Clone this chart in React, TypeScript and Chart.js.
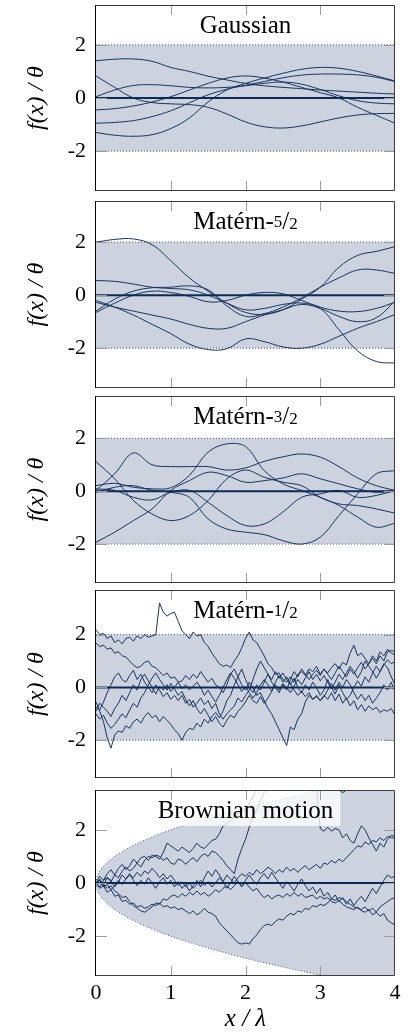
import React, { useEffect, useRef } from "react";
import { Chart, registerables } from "chart.js";

Chart.register(...registerables);

const SERIF = "'Liberation Serif', 'Times New Roman', serif";
const LINE = "#17335f";
const MEAN = "#0e2a57";
const BAND_FILL = "rgb(204, 211, 222)";
const BAND_EDGE = "rgba(40, 62, 105, 0.85)";
const FRAME = "#3c3c3c";
const AXIS = "#000000";
const TICK = "#9c9c9c";

const PAGE_W = 414;
const PAGE_H = 1034;
const PAD_TOP = 5;
const PAD_BOTTOM = 4;
const Y_AXIS_W = 96;
const RIGHT_PAD = 19;

// tick positions
const X_TICKS = [0, 1, 2, 3, 4];
const X_INNER_TICKS = [1, 2, 3];
const Y_TICKS = [-2, 0, 2];

// sample grids
const SMOOTH_X = [0, 0.25, 0.5, 0.75, 1, 1.25, 1.5, 1.75, 2, 2.25, 2.5, 2.75, 3, 3.25, 3.5, 3.75, 4];
const ROUGH_X = [
  0, 0.05, 0.1, 0.15, 0.2, 0.25, 0.3, 0.35, 0.4, 0.45,
  0.5, 0.55, 0.6, 0.65, 0.7, 0.75, 0.8, 0.85, 0.9, 0.95,
  1, 1.05, 1.1, 1.15, 1.2, 1.25, 1.3, 1.35, 1.4, 1.45,
  1.5, 1.55, 1.6, 1.65, 1.7, 1.75, 1.8, 1.85, 1.9, 1.95,
  2, 2.05, 2.1, 2.15, 2.2, 2.25, 2.3, 2.35, 2.4, 2.45,
  2.5, 2.55, 2.6, 2.65, 2.7, 2.75, 2.8, 2.85, 2.9, 2.95,
  3, 3.05, 3.1, 3.15, 3.2, 3.25, 3.3, 3.35, 3.4, 3.45,
  3.5, 3.55, 3.6, 3.65, 3.7, 3.75, 3.8, 3.85, 3.9, 3.95,
  4,
];

// ±2 standard-deviation band (stationary kernels)
const BAND_X = [0, 4];
const BAND_UPPER = [2, 2];
const BAND_LOWER = [-2, -2];

// ±2·sqrt(x) band for Brownian motion
const ENVELOPE_X = [0, 0.01, 0.025, 0.05, 0.1, 0.15, 0.2, 0.3, 0.4, 0.5, 0.6, 0.8, 1.0, 1.2, 1.4, 1.6, 1.8, 2.0, 2.25, 2.5, 2.75, 3.0, 3.25, 3.5, 3.75, 4.0];
const ENVELOPE_UPPER = [0, 0.2, 0.316, 0.447, 0.632, 0.775, 0.894, 1.095, 1.265, 1.414, 1.549, 1.789, 2.0, 2.191, 2.366, 2.53, 2.683, 2.828, 3.0, 3.162, 3.317, 3.464, 3.606, 3.742, 3.873, 4.0];
const ENVELOPE_LOWER = [0, -0.2, -0.316, -0.447, -0.632, -0.775, -0.894, -1.095, -1.265, -1.414, -1.549, -1.789, -2.0, -2.191, -2.366, -2.53, -2.683, -2.828, -3.0, -3.162, -3.317, -3.464, -3.606, -3.742, -3.873, -4.0];

// zero mean
const MEAN_X = [0, 4];
const MEAN_Y = [0, 0];

// Gaussian kernel samples
const GAUSS_1 = [1.4, 1.46, 1.47, 1.38, 1.15, 1.0, 0.82, 0.68, 0.55, 0.46, 0.4, 0.35, 0.3, 0.26, 0.22, 0.18, 0.15];
const GAUSS_2 = [0.83, 0.4, 0.0, -0.17, -0.22, -0.25, -0.35, -0.6, -0.9, -1.08, -1.13, -1.05, -0.9, -0.75, -0.64, -0.59, -0.58];
const GAUSS_3 = [-1.3, -1.4, -1.44, -1.38, -1.15, -0.75, -0.15, 0.3, 0.55, 0.75, 0.93, 1.08, 1.15, 1.12, 1.0, 0.83, 0.64];
const GAUSS_4 = [-0.45, -0.4, -0.3, -0.15, 0.05, 0.3, 0.55, 0.75, 0.83, 0.75, 0.6, 0.4, 0.2, 0.0, -0.35, -0.65, -0.95];
const GAUSS_5 = [-0.95, -0.92, -0.85, -0.7, -0.48, -0.18, 0.12, 0.33, 0.48, 0.62, 0.76, 0.86, 0.9, 0.9, 0.87, 0.78, 0.62];
const GAUSS_6 = [0.05, 0.3, 0.47, 0.5, 0.46, 0.4, 0.38, 0.4, 0.46, 0.55, 0.6, 0.52, 0.32, 0.08, -0.1, -0.19, -0.22];

// Matérn-5/2 samples
const M52_1 = [2.0, 2.1, 2.12, 1.9, 1.3, 0.65, 0.15, -0.3, -0.65, -0.72, -0.55, -0.15, 0.3, 1.05, 1.5, 1.65, 1.83];
const M52_2 = [0.55, 0.52, 0.42, 0.3, 0.25, 0.2, 0.0, -0.3, -0.55, -0.5, -0.35, -0.3, -0.5, -1.3, -2.1, -2.5, -2.56];
const M52_3 = [-0.2, -0.45, -0.75, -1.1, -1.45, -1.85, -2.05, -2.02, -1.65, -1.75, -1.95, -2.0, -1.85, -1.55, -1.25, -1.0, -0.73];
const M52_4 = [-0.27, -0.45, -0.6, -0.75, -0.9, -1.1, -1.25, -1.25, -1.0, -0.75, -0.55, -0.35, -0.5, -0.8, -1.0, -0.85, -0.22];
const M52_5 = [-0.6, -0.15, 0.15, 0.28, 0.3, 0.35, 0.2, -0.4, -0.8, -0.7, -0.45, -0.1, 0.3, 0.65, 0.95, 0.95, 0.82];
const M52_6 = [-0.65, -0.3, 0.0, 0.15, 0.1, -0.05, -0.25, -0.2, 0.0, 0.1, 0.05, -0.2, -0.45, -0.6, -0.62, -0.5, -0.27];

// Matérn-3/2 samples
const M32_1 = [0.03, 0.66, 1.45, 1.0, 0.93, 0.93, 0.93, 0.8, 0.88, 1.13, 1.3, 1.41, 1.29, 0.93, 0.5, 0.21, 0.03];
const M32_2 = [0.21, 0.3, 0.15, 0.09, 0.13, 0.6, 1.48, 1.79, 1.69, 0.78, 0.28, 0.03, -0.23, -0.54, -0.98, -1.36, -1.21];
const M32_3 = [1.12, 0.47, -0.35, -0.86, -1.11, -0.92, -0.35, 0.47, 0.8, 0.53, 0.34, 0.21, -0.23, -0.48, -0.54, -0.67, -0.83];
const M32_4 = [-1.93, -1.55, -1.11, -0.67, 0.03, 0.4, 0.72, 0.59, 0.34, 0.4, 0.5, 0.66, 0.47, 0.28, 0.09, -0.04, 0.03];
const M32_5 = [-0.04, 0.15, 0.21, 0.03, -0.04, -0.23, -1.05, -1.43, -1.55, -1.64, -1.87, -2.0, -1.74, -0.92, -0.1, 0.66, 0.78];
const M32_6 = [0.09, 0.03, -0.23, -0.33, -0.04, 0.03, -0.42, -0.92, -1.3, -1.24, -0.79, -0.23, -0.1, 0.03, -0.23, -0.16, 0.03];

// Matérn-1/2 samples
const M12_1 = [
  2.17, 2.0, 2.05, 1.85, 1.95, 1.7, 1.8, 1.65, 1.85, 1.9,
  1.75, 1.95, 1.85, 2.0, 1.9, 1.95, 2.0, 3.2, 2.85, 2.7,
  2.8, 2.85, 2.5, 2.15, 2.0, 1.85, 2.1, 1.95, 2.0, 1.7,
  1.55, 1.3, 1.1, 0.9, 0.8, 0.85, 0.75, 1.0, 1.2, 1.5,
  1.85, 2.1, 1.8, 1.7, 1.45, 1.2, 0.9, 0.75, 0.5, 0.55,
  0.3, 0.2, 0.4, 0.2, 0.5, 0.6, 0.45, 0.7, 0.6, 0.8,
  0.5, 0.7, 0.55, 0.75, 0.9, 0.7, 0.95, 0.85, 1.3, 1.6,
  1.2, 1.3, 1.1, 0.9, 1.2, 1.0, 1.35, 1.2, 1.45, 1.3,
  1.24,
];
const M12_2 = [
  1.68, 1.55, 1.6, 1.45, 1.5, 1.3, 1.35, 1.2, 1.15, 1.0,
  0.85, 0.75, 0.8, 0.95, 1.0, 0.8, 0.75, 0.6, 0.45, 0.55,
  0.35, 0.4, 0.2, 0.25, 0.45, 0.3, 0.5, 0.35, 0.6, 0.4,
  0.2, 0.35, 0.1, 0.0, -0.2, 0.1, 0.5, 0.7, 0.4, 0.1,
  -0.1, 0.2, 0.0, -0.3, -0.2, -0.5, -0.8, -1.0, -1.3, -1.6,
  -1.9, -2.2, -1.5, -1.6, -1.2, -1.0, -0.55, -0.3, -0.45, -0.35,
  -0.5, -0.3, -0.45, -0.2, -0.5, -0.25, -0.6, -0.4, -0.7, -0.5,
  -0.85, -0.65, -0.9, -0.7, -0.85, -0.75, -0.95, -0.85, -0.9, -0.8,
  -1.05,
];
const M12_3 = [
  -0.55, -0.9, -1.3, -1.9, -2.3, -1.8, -1.65, -1.7, -1.45, -1.55,
  -1.3, -1.2, -1.35, -1.1, -0.95, -1.15, -1.05, -1.3, -1.1, -1.25,
  -1.4, -1.6, -1.75, -2.0, -1.7, -1.55, -1.6, -1.35, -1.5, -1.2,
  -1.35, -1.1, -0.95, -1.15, -0.9, -0.5, -0.3, 0.1, 0.4, 0.7,
  0.3, 0.0, -0.2, 0.1, -0.1, 0.2, 0.5, 0.3, 0.6, 0.35,
  0.55, 0.3, 0.1, 0.35, 0.0, -0.2, 0.1, -0.1, 0.2, 0.0,
  -0.3, -0.1, 0.3, 0.0, -0.25, 0.1, -0.2, -0.45, -0.3, 0.0,
  0.25, 0.05, 0.4, 0.2, 0.55, 0.8, 0.6, 0.9, 0.75, 0.4,
  0.1,
];
const M12_4 = [
  -0.75, -0.85, -0.55, -0.2, 0.1, 0.4, 0.55, 0.3, 0.2, 0.45,
  0.65, 0.3, 0.5, 0.2, 0.0, -0.2, 0.1, -0.1, -0.35, -0.2,
  -0.45, -0.3, -0.5, -0.3, -0.6, -0.45, -0.75, -0.6, -0.4, -0.65,
  -0.5, -0.8, -0.6, -1.0, -1.2, -1.0, -0.85, -0.7, -0.4, -0.55,
  -0.3, -0.1, 0.3, 0.7, 1.0, 0.75, 0.5, 0.2, 0.0, -0.2,
  0.1, -0.1, 0.3, 0.6, 0.4, 0.7, 0.5, 0.3, 0.5, 0.65,
  0.45, 0.7, 0.5, 0.3, 0.55, 0.8, 0.6, 0.4, 0.7, 0.5,
  0.75, 0.95, 0.7, 0.9, 1.1, 0.9, 1.2, 1.0, 1.35, 1.4,
  1.36,
];
const M12_5 = [
  -0.9, -0.6, -0.75, -0.9, -1.1, -0.8, -0.6, -0.3, -0.5, -0.2,
  0.1, -0.1, 0.3, 0.5, 0.25, 0.0, -0.25, 0.05, -0.1, 0.1,
  -0.15, 0.0, 0.2, -0.05, 0.1, -0.1, 0.05, 0.2, 0.0, -0.3,
  -0.1, -0.35, -0.55, -0.3, 0.0, 0.3, 0.55, 0.35, 0.1, -0.15,
  0.05, -0.2, -0.4, -0.2, 0.1, 0.3, 0.1, -0.15, 0.2, 0.45,
  0.2, 0.4, 0.15, -0.1, -0.3, -0.15, -0.35, -0.2, -0.45, -0.3,
  -0.5, -0.35, -0.1, 0.15, -0.1, 0.2, 0.0, 0.3, 0.1, -0.2,
  -0.45, -0.25, -0.5, -0.3, -0.6, -0.4, -0.2, 0.1, -0.1, 0.2,
  -0.15,
];
const M12_6 = [
  -1.0, -1.2, -1.05, -1.35, -1.55, -1.4, -1.2, -1.0, -1.15, -0.85,
  -0.6, -0.75, -0.4, -0.2, 0.1, 0.35, 0.55, 0.3, 0.1, -0.1,
  0.15, -0.05, -0.3, -0.15, -0.45, -0.7, -0.5, -0.8, -1.0, -0.8,
  -1.05, -1.3, -1.1, -1.35, -1.5, -1.25, -1.05, -1.15, -0.9, -0.75,
  -0.55, -0.3, -0.5, -0.6, -0.35, -0.6, -0.4, -0.15, 0.1, -0.1,
  0.15, 0.0, -0.2, 0.05, 0.3, 0.1, 0.35, 0.6, 0.3, 0.5,
  0.25, 0.45, 0.2, -0.05, 0.2, 0.5, 0.3, 0.55, 0.8, 0.6,
  0.35, 0.6, 1.0, 0.8, 0.6, 0.35, 0.6, 0.85, 1.05, 0.9,
  0.98,
];

// Brownian motion samples
const BM_1 = [
  0, 0.25, 0.1, 0.35, 0.5, 0.3, 0.55, 0.7, 0.5, 0.65,
  0.9, 0.75, 0.95, 1.0, 0.85, 1.05, 1.0, 0.9, 1.15, 1.5,
  1.4, 1.3, 1.2, 1.35, 1.25, 1.15, 1.3, 1.5, 1.35, 1.3,
  1.45, 1.6, 1.65, 1.85, 2.15, 2.2, 2.35, 2.45, 2.6, 2.7,
  2.78, 3.0, 3.25, 3.55, 3.6, 3.5, 3.7, 3.9, 3.75, 4.0,
  3.85, 4.1, 3.9, 3.7, 3.9, 4.1, 3.95, 4.2, 4.0, 3.8,
  3.6, 3.8, 3.7, 3.55, 3.65, 3.5, 3.4, 3.5, 3.7, 3.9,
  4.1, 3.95, 4.2, 4.4, 4.2, 4.5, 4.3, 4.6, 4.4, 4.7,
  4.5,
];
const BM_2 = [
  0, -0.15, 0.1, 0.2, 0.05, 0.3, 0.2, 0.45, 0.6, 0.45,
  0.55, 0.75, 0.6, 0.85, 1.0, 0.95, 1.05, 1.0, 0.85, 0.95,
  0.75, 0.7, 0.9, 0.85, 0.7, 0.85, 0.95, 0.8, 1.0, 1.1,
  1.0, 1.2, 1.15, 1.0, 0.85, 0.65, 0.5, 0.35, 0.9, 1.3,
  1.64, 2.1, 2.5, 2.75, 3.1, 3.4, 3.6, 3.5, 3.7, 3.55,
  3.75, 3.6, 3.8, 3.6, 3.75, 3.55, 3.6, 3.5, 3.45, 3.55,
  2.05, 1.95, 2.1, 1.95, 2.05, 2.0, 1.7, 1.85, 1.6, 1.5,
  1.85, 2.15, 2.0, 1.7, 1.45, 1.2, 1.5, 1.35, 1.65, 1.8,
  1.75,
];
const BM_3 = [
  0, 0.15, -0.1, 0.2, 0.1, -0.15, 0.05, 0.3, 0.15, 0.35,
  0.1, -0.1, 0.1, -0.05, 0.2, 0.0, -0.2, 0.05, 0.2, -0.05,
  0.1, -0.15, 0.05, -0.2, -0.05, -0.3, -0.1, 0.1, -0.15, 0.2,
  0.45, 0.25, 0.5, 0.3, 0.05, -0.2, 0.0, 0.25, 0.05, -0.15,
  0.1, 0.3, 0.1, -0.05, 0.2, 0.35, 0.15, 0.4, 0.2, 0.0,
  -0.2, 0.05, -0.1, -0.3, -0.05, 0.15, -0.1, -0.3, -0.15, -0.4,
  -0.2, -0.5, -0.35, -0.6, -0.45, -0.7, -0.55, -0.8, -0.6, -0.85,
  -0.65, -0.5, -0.7, -0.45, -0.2, -0.4, -0.15, 0.1, 0.3, 0.2,
  0.25,
];
const BM_4 = [
  0, 0.1, -0.15, -0.05, -0.25, -0.1, 0.1, -0.05, 0.15, 0.3,
  0.2, 0.4, 0.25, 0.45, 0.35, 0.55, 0.4, 0.2, 0.35, 0.15,
  0.3, 0.1, -0.1, 0.05, -0.15, 0.0, -0.2, -0.05, 0.1, -0.1,
  0.05, -0.15, 0.0, 0.2, 0.05, 0.3, 0.15, 0.0, 0.2, 0.35,
  0.25, 0.4, 0.3, 0.5, 0.35, 0.45, 0.6, 0.5, 0.35, 0.5,
  0.4, 0.6, 0.45, 0.55, 0.4, 0.55, 0.65, 0.5, 0.6, 0.7,
  0.55, 0.75, 0.7, 0.85, 0.75, 0.9, 0.8, 0.95, 1.1, 1.25,
  1.4, 1.35, 1.55, 1.45, 1.6, 1.55, 1.7, 1.6, 1.75, 1.7,
  1.7,
];
const BM_5 = [
  0, -0.2, -0.1, -0.35, -0.25, -0.5, -0.45, -0.7, -0.65, -0.8,
  -0.75, -0.9, -0.85, -0.95, -0.9, -0.8, -0.85, -0.75, -0.9, -0.85,
  -0.95, -0.9, -1.0, -0.95, -1.05, -1.15, -1.05, -1.2, -1.1, -0.95,
  -1.1, -1.15, -1.25, -1.5, -1.65, -1.8, -1.95, -2.1, -2.25, -2.3,
  -2.25, -2.3, -2.1, -1.95, -1.75, -1.6, -1.55, -1.6, -1.45, -1.35,
  -1.4, -1.25, -1.15, -1.2, -1.05, -1.1, -0.95, -1.0, -0.85, -0.9,
  -0.8, -0.85, -0.75, -0.6, -0.65, -0.55, -0.6, -0.7, -0.8, -0.9,
  -0.95, -1.0, -0.9, -1.05, -0.95, -1.1, -0.9, -0.8, -0.7, -0.6,
  -0.55,
];
const BM_6 = [
  0, 0.1, -0.05, -0.2, -0.1, -0.3, -0.4, -0.55, -0.5, -0.7,
  -0.85, -0.95, -1.05, -1.1, -1.0, -0.9, -0.75, -0.8, -0.6, -0.65,
  -0.5, -0.45, -0.55, -0.4, -0.5, -0.35, -0.45, -0.3, -0.45, -0.35,
  -0.5, -0.4, -0.25, -0.35, -0.2, -0.1, -0.25, -0.1, 0.05, -0.1,
  0.0, -0.15, -0.3, -0.2, -0.4, -0.55, -0.45, -0.6, -0.5, -0.45,
  -0.55, -0.4, -0.5, -0.35, -0.5, -0.4, -0.55, -0.5, -0.45, -0.6,
  -0.5, -0.6, -0.55, -0.7, -0.75, -0.65, -0.8, -0.9, -0.95, -1.0,
  -0.9, -1.05, -1.1, -1.0, -1.2, -1.1, -1.25, -1.15, -1.4, -1.5,
  -1.58,
];

type Piece = { text: string; size: number; dy: number };

type PanelSpec = {
  name: string;
  title: Piece[];
  xs: number[];
  curves: number[][];
  tension: number;
  yMin: number;
  yMax: number;
  plotTop: number;
  plotBottom: number;
  envelope: "constant" | "sqrt";
  xAxis: boolean;
};

const T = 25;
const S = 17;
const maternTitle = (num: string, den: string): Piece[] => [
  { text: "Matérn-", size: T, dy: 0 },
  { text: num, size: S, dy: -2 },
  { text: "/", size: T, dy: 0 },
  { text: den, size: S, dy: 0 },
];

const PANELS: PanelSpec[] = [
  {
    name: "gaussian",
    title: [{ text: "Gaussian", size: T, dy: 0 }],
    xs: SMOOTH_X,
    curves: [GAUSS_1, GAUSS_2, GAUSS_3, GAUSS_4, GAUSS_5, GAUSS_6],
    tension: 0.4,
    yMin: -3.5,
    yMax: 3.5,
    plotTop: 5,
    plotBottom: 191,
    envelope: "constant",
    xAxis: false,
  },
  {
    name: "matern52",
    title: maternTitle("5", "2"),
    xs: SMOOTH_X,
    curves: [M52_1, M52_2, M52_3, M52_4, M52_5, M52_6],
    tension: 0.4,
    yMin: -3.5,
    yMax: 3.55,
    plotTop: 201,
    plotBottom: 388,
    envelope: "constant",
    xAxis: false,
  },
  {
    name: "matern32",
    title: maternTitle("3", "2"),
    xs: SMOOTH_X,
    curves: [M32_1, M32_2, M32_3, M32_4, M32_5, M32_6],
    tension: 0.35,
    yMin: -3.47,
    yMax: 3.6,
    plotTop: 396,
    plotBottom: 583,
    envelope: "constant",
    xAxis: false,
  },
  {
    name: "matern12",
    title: maternTitle("1", "2"),
    xs: ROUGH_X,
    curves: [M12_1, M12_2, M12_3, M12_4, M12_5, M12_6],
    tension: 0,
    yMin: -3.43,
    yMax: 3.69,
    plotTop: 590,
    plotBottom: 778,
    envelope: "constant",
    xAxis: false,
  },
  {
    name: "brownian",
    title: [{ text: "Brownian motion", size: T, dy: 0 }],
    xs: ROUGH_X,
    curves: [BM_1, BM_2, BM_3, BM_4, BM_5, BM_6],
    tension: 0,
    yMin: -3.5,
    yMax: 3.5,
    plotTop: 790,
    plotBottom: 976,
    envelope: "sqrt",
    xAxis: true,
  },
];

const toPoints = (xs: number[], ys: number[]) => xs.map((x, i) => ({ x, y: ys[i] }));

function makeDecor(spec: PanelSpec) {
  return {
    id: "panelDecor",
    afterDatasetsDraw(chart: any) {
      const { ctx, chartArea: a } = chart;
      ctx.save();
      // title with a translucent white box behind it
      let width = 0;
      for (const p of spec.title) {
        ctx.font = `${p.size}px ${SERIF}`;
        width += ctx.measureText(p.text).width;
      }
      const cx = (a.left + a.right) / 2;
      const baseline = a.top + 28;
      ctx.beginPath();
      ctx.rect(a.left, a.top, a.right - a.left, a.bottom - a.top);
      ctx.clip();
      ctx.fillStyle = "rgba(255,255,255,0.78)";
      ctx.fillRect(cx - width / 2 - 5, a.top, width + 12, 36);
      let x = cx - width / 2;
      ctx.fillStyle = "#000";
      ctx.textBaseline = "alphabetic";
      ctx.textAlign = "left";
      for (const p of spec.title) {
        ctx.font = `${p.size}px ${SERIF}`;
        ctx.fillText(p.text, x, baseline + p.dy);
        x += ctx.measureText(p.text).width;
      }
      ctx.restore();
    },
    afterDraw(chart: any) {
      const { ctx, chartArea: a, scales } = chart;
      const xs = scales.x;
      const ys = scales.y;
      ctx.save();
      ctx.lineWidth = 1;
      ctx.strokeStyle = TICK;
      ctx.beginPath();
      for (const v of X_INNER_TICKS) {
        const px = Math.round(xs.getPixelForValue(v)) + 0.5;
        ctx.moveTo(px, a.top);
        ctx.lineTo(px, a.top + 10);
        ctx.moveTo(px, a.bottom);
        ctx.lineTo(px, a.bottom - 10);
      }
      for (const v of Y_TICKS) {
        const py = Math.round(ys.getPixelForValue(v)) + 0.5;
        ctx.moveTo(a.left, py);
        ctx.lineTo(a.left + 11, py);
        ctx.moveTo(a.right, py);
        ctx.lineTo(a.right - 11, py);
      }
      ctx.stroke();

      // frame
      const l = a.left - 0.5;
      const r = a.right - 0.5;
      const t = a.top + 0.5;
      const b = a.bottom - 0.5;
      ctx.strokeStyle = FRAME;
      ctx.beginPath();
      ctx.moveTo(l, t);
      ctx.lineTo(r, t);
      ctx.lineTo(r, b);
      ctx.lineTo(l, b);
      ctx.stroke();
      ctx.strokeStyle = AXIS;
      ctx.beginPath();
      ctx.moveTo(l, t - 0.5);
      ctx.lineTo(l, b + 0.5);
      ctx.stroke();
      ctx.restore();
    },
  };
}

function Panel({ spec }: { spec: PanelSpec }) {
  const ref = useRef<HTMLCanvasElement>(null);
  const canvasTop = spec.plotTop - PAD_TOP;
  const plotH = spec.plotBottom - spec.plotTop;
  const canvasHeight = spec.xAxis ? PAGE_H - canvasTop : plotH + PAD_TOP + PAD_BOTTOM;

  useEffect(() => {
    const canvas = ref.current;
    if (!canvas) return;
    const sqrt = spec.envelope === "sqrt";
    const bx = sqrt ? ENVELOPE_X : BAND_X;
    const bu = sqrt ? ENVELOPE_UPPER : BAND_UPPER;
    const bl = sqrt ? ENVELOPE_LOWER : BAND_LOWER;

    const datasets: any[] = [
      {
        data: toPoints(bx, bu),
        fill: "+1",
        backgroundColor: BAND_FILL,
        borderColor: BAND_EDGE,
        borderWidth: 1,
        borderDash: [1, 2],
        pointRadius: 0,
        cubicInterpolationMode: sqrt ? "monotone" : "default",
        order: 10,
      },
      {
        data: toPoints(bx, bl),
        fill: false,
        borderColor: BAND_EDGE,
        borderWidth: 1,
        borderDash: [1, 2],
        pointRadius: 0,
        cubicInterpolationMode: sqrt ? "monotone" : "default",
        order: 9,
      },
      ...spec.curves.map((c) => ({
        data: toPoints(spec.xs, c),
        fill: false,
        borderColor: LINE,
        borderWidth: 1,
        pointRadius: 0,
        tension: spec.tension,
        order: 5,
      })),
      {
        data: toPoints(MEAN_X, MEAN_Y),
        fill: false,
        borderColor: MEAN,
        borderWidth: 2,
        pointRadius: 0,
        order: 1,
      },
    ];

    const xAxisHeight = spec.xAxis ? canvasHeight - PAD_TOP - plotH : 0;

    const chart = new Chart(canvas, {
      type: "line",
      data: { datasets },
      options: {
        responsive: false,
        animation: false,
        events: [],
        devicePixelRatio: 1,
        layout: {
          padding: { top: PAD_TOP, right: RIGHT_PAD, bottom: spec.xAxis ? 0 : PAD_BOTTOM, left: 0 },
        },
        plugins: {
          legend: { display: false },
          tooltip: { enabled: false },
          title: { display: false },
        },
        scales: {
          x: {
            type: "linear",
            min: 0,
            max: 4,
            grid: { display: false, drawTicks: false },
            border: { display: false },
            ticks: {
              display: spec.xAxis,
              autoSkip: false,
              padding: 6,
              color: "#000",
              font: { family: SERIF, size: 22, lineHeight: 1 },
              callback: (v: any) => String(v),
            },
            afterBuildTicks: (s: any) => {
              s.ticks = X_TICKS.map((value) => ({ value }));
            },
            title: {
              display: spec.xAxis,
              text: "x / λ",
              color: "#000",
              font: { family: SERIF, size: 25, style: "italic", lineHeight: 1 },
              padding: { top: 0, bottom: 2 },
            },
            afterFit: (s: any) => {
              s.height = xAxisHeight;
              s.paddingLeft = 0;
              s.paddingRight = 0;
            },
          },
          y: {
            type: "linear",
            min: spec.yMin,
            max: spec.yMax,
            grid: { display: false, drawTicks: false },
            border: { display: false },
            ticks: {
              autoSkip: false,
              padding: 10,
              color: "#000",
              font: { family: SERIF, size: 22, lineHeight: 1 },
              callback: (v: any) => String(v),
            },
            afterBuildTicks: (s: any) => {
              s.ticks = Y_TICKS.map((value) => ({ value }));
            },
            title: {
              display: true,
              text: "f(x) / θ",
              color: "#000",
              font: { family: SERIF, size: 24, style: "italic", lineHeight: 1 },
              padding: { top: 25, bottom: 0 },
            },
            afterFit: (s: any) => {
              s.width = Y_AXIS_W;
              s.paddingTop = 0;
              s.paddingBottom = 0;
            },
          },
        },
      } as any,
      plugins: [makeDecor(spec)],
    });
    return () => chart.destroy();
  }, [spec, canvasHeight, plotH]);

  return (
    <canvas
      ref={ref}
      width={PAGE_W}
      height={canvasHeight}
      style={{ position: "absolute", left: 0, top: canvasTop, width: PAGE_W, height: canvasHeight, display: "block" }}
    />
  );
}

export default function App() {
  return (
    <div
      style={{
        position: "absolute",
        left: 0,
        top: 0,
        width: PAGE_W,
        height: PAGE_H,
        background: "#fff",
        overflow: "hidden",
      }}
    >
      {PANELS.map((p) => (
        <Panel key={p.name} spec={p} />
      ))}
    </div>
  );
}
